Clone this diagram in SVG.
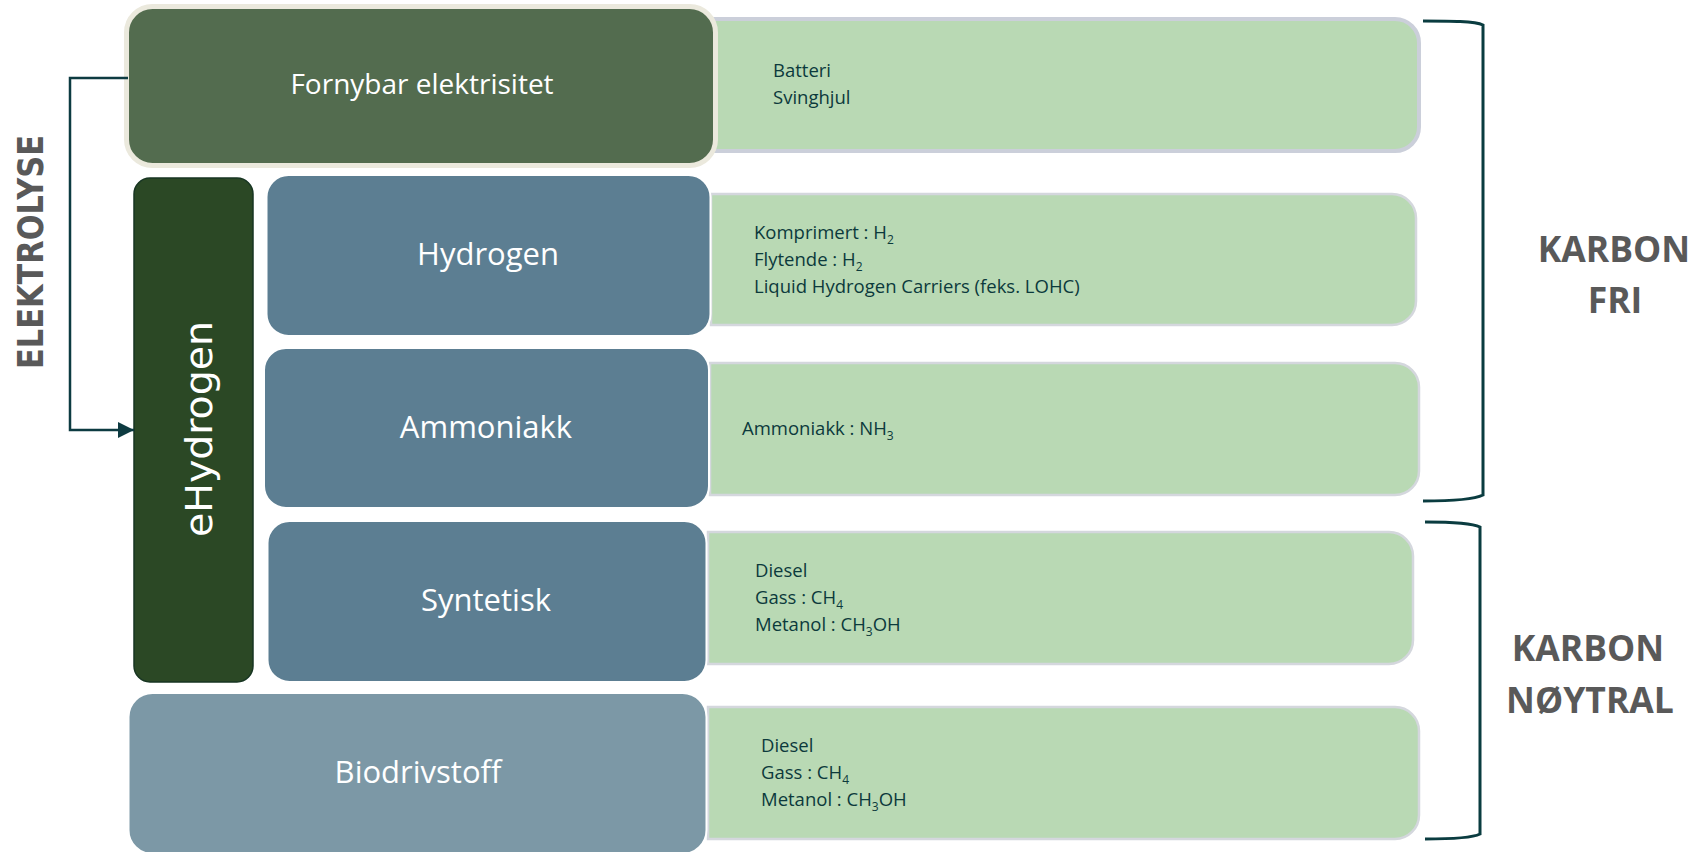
<svg xmlns="http://www.w3.org/2000/svg" width="1698" height="852" viewBox="0 0 1698 852">
<style>
.panel{fill:#b9d9b4;stroke:#d4d7dd;stroke-width:2.5}
.box{stroke:#ffffff;stroke-width:2}
.blue{fill:#5c7e92}
.lbl{font-family:"Open Sans","DejaVu Sans",sans-serif;fill:#ffffff;text-anchor:middle}
.ptxt{font-family:"Open Sans","DejaVu Sans",sans-serif;font-size:18.5px;fill:#0c3a3c}
.sub{font-size:12px}
.side{font-family:"Open Sans","DejaVu Sans",sans-serif;font-weight:bold;font-size:35.5px;fill:#595959;text-anchor:middle}
.conn{fill:none;stroke:#0d3b41;stroke-width:2.5}
.brk{fill:none;stroke:#0a3c40;stroke-width:3}
</style>
<defs>
<marker id="arr" markerWidth="16" markerHeight="16" refX="16" refY="8" orient="auto" markerUnits="userSpaceOnUse">
<path d="M0,0 L16,8 L0,16 Z" fill="#0d3b41"/>
</marker>
</defs>
<rect width="1698" height="852" fill="#ffffff"/>

<g id="panel-fornybar">
<path class="panel" style="stroke:#cbcfda;stroke-width:4" d="M700,19 H1395 A24,24 0 0 1 1419,43 V127 A24,24 0 0 1 1395,151 H700 Z"/>
<text class="ptxt" x="773" y="76.5">Batteri</text>
<text class="ptxt" x="773" y="103.5">Svinghjul</text>
</g>
<g id="panel-hydrogen">
<path class="panel" d="M711,194 H1392 A24,24 0 0 1 1416,218 V301 A24,24 0 0 1 1392,325 H711 Z"/>
<text class="ptxt" x="754" y="239">Komprimert : H<tspan class="sub" dy="5">2</tspan></text>
<text class="ptxt" x="754" y="266">Flytende : H<tspan class="sub" dy="5">2</tspan></text>
<text class="ptxt" x="754" y="293">Liquid Hydrogen Carriers (feks. LOHC)</text>
</g>
<g id="panel-ammoniakk">
<path class="panel" d="M710,363 H1395 A24,24 0 0 1 1419,387 V471 A24,24 0 0 1 1395,495 H710 Z"/>
<text class="ptxt" x="742" y="435">Ammoniakk : NH<tspan class="sub" dy="5">3</tspan></text>
</g>
<g id="panel-syntetisk">
<path class="panel" d="M708,532 H1389 A24,24 0 0 1 1413,556 V640 A24,24 0 0 1 1389,664 H708 Z"/>
<text class="ptxt" x="755" y="577">Diesel</text>
<text class="ptxt" x="755" y="604">Gass : CH<tspan class="sub" dy="5">4</tspan></text>
<text class="ptxt" x="755" y="631">Metanol : CH<tspan class="sub" dy="5">3</tspan><tspan dy="-5">OH</tspan></text>
</g>
<g id="panel-bio">
<path class="panel" d="M708,707 H1395 A24,24 0 0 1 1419,731 V815 A24,24 0 0 1 1395,839 H708 Z"/>
<text class="ptxt" x="761" y="752">Diesel</text>
<text class="ptxt" x="761" y="779">Gass : CH<tspan class="sub" dy="5">4</tspan></text>
<text class="ptxt" x="761" y="806">Metanol : CH<tspan class="sub" dy="5">3</tspan><tspan dy="-5">OH</tspan></text>
</g>

<g id="fornybar">
<rect x="126.5" y="6.5" width="589" height="159" rx="26" fill="#536c4f" stroke="#ebe9dd" stroke-width="5"/>
<text class="lbl" x="422" y="94" font-size="28">Fornybar elektrisitet</text>
</g>
<g id="ehydrogen">
<rect x="134" y="178" width="119" height="504" rx="16" fill="#2b4825" stroke="#173522" stroke-width="1.5"/>
<text class="lbl" font-size="38" transform="translate(212,429) rotate(-90)" x="0" y="0" style="font-family:'DejaVu Sans',sans-serif" textLength="216" lengthAdjust="spacingAndGlyphs">eHydrogen</text>
</g>
<g id="hydrogen">
<rect class="box blue" x="266.5" y="175" width="444" height="161" rx="22"/>
<text class="lbl" x="488" y="265" font-size="31">Hydrogen</text>
</g>
<g id="ammoniakk">
<rect class="box blue" x="264" y="348" width="445" height="160" rx="22"/>
<text class="lbl" x="486" y="438" font-size="31">Ammoniakk</text>
</g>
<g id="syntetisk">
<rect class="box blue" x="267.5" y="521" width="439" height="161" rx="22"/>
<text class="lbl" x="486" y="611" font-size="31">Syntetisk</text>
</g>
<g id="biodrivstoff">
<rect class="box" x="128.5" y="693" width="578" height="161" rx="24" fill="#7c98a6"/>
<text class="lbl" x="418" y="783" font-size="31">Biodrivstoff</text>
</g>

<g id="connectors">
<path class="conn" d="M128,78 H70 V430 H134" marker-end="url(#arr)"/>
<path class="brk" d="M1423,21 C1450,21 1475,21 1483,25 V495 C1475,499 1450,501 1423,501"/>
<path class="brk" d="M1425,522 C1450,522 1472,523 1480,527 V834 C1472,838 1450,839 1425,839"/>
</g>

<g id="labels">
<text class="side" transform="translate(43,252) rotate(-90)" style="font-family:'DejaVu Sans',sans-serif" font-size="38" textLength="234" lengthAdjust="spacingAndGlyphs">ELEKTROLYSE</text>
<text class="side" x="1614" y="262">KARBON</text>
<text class="side" x="1615" y="313">FRI</text>
<text class="side" x="1588" y="661">KARBON</text>
<text class="side" x="1590" y="713">NØYTRAL</text>
</g>
</svg>
